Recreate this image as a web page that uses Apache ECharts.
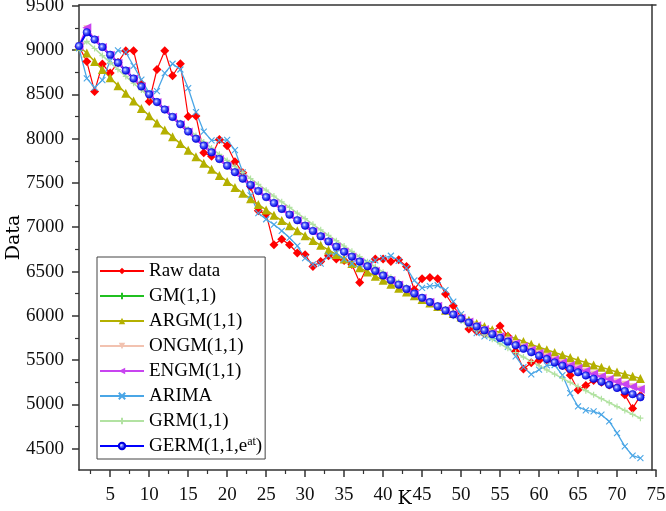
<!DOCTYPE html>
<html><head><meta charset="utf-8">
<script src="https://cdn.jsdelivr.net/npm/echarts@6.0.0/dist/echarts.min.js"></script>
<style>html,body{margin:0;padding:0;background:#fff}#c{width:666px;height:511px}</style>
</head><body><div id="c"></div>
<script>
const kValues = [1,2,3,4,5,6,7,8,9,10,11,12,13,14,15,16,17,18,19,20,21,22,23,24,25,26,27,28,29,30,31,32,33,34,35,36,37,38,39,40,41,42,43,44,45,46,47,48,49,50,51,52,53,54,55,56,57,58,59,60,61,62,63,64,65,66,67,68,69,70,71,72,73];
const xTickLabels = [5,10,15,20,25,30,35,40,45,50,55,60,65,70,75];
const xMinorTicks = [2.5,7.5,12.5,17.5,22.5,27.5,32.5,37.5,42.5,47.5,52.5,57.5,62.5,67.5,72.5];
const yTickLabels = [4500,5000,5500,6000,6500,7000,7500,8000,8500,9000,9500];
const yMinorTicks = [4750,5250,5750,6250,6750,7250,7750,8250,8750,9250];

const rawValues = [9040,8870,8533,8842,8740,8860,8992,8992,8620,8420,
 8780,8992,8710,8845,8250,8255,7840,7800,7990,7920,
 7740,7615,7460,7185,7150,6802,6865,6802,6709,6690,
 6557,6614,6678,6641,6625,6580,6375,6560,6640,6641,
 6614,6633,6557,6295,6419,6433,6419,6246,6114,5986,
 5851,5825,5800,5820,5885,5770,5600,5400,5470,5495,
 5505,5480,5440,5330,5162,5215,5270,5250,5220,5195,
 5110,4955,5100];
const gmValues = [9045,9200,9118,9033,8946,8857,8768,8678,8589,8500,
 8413,8328,8245,8162,8080,7999,7921,7845,7770,7695,
 7621,7548,7477,7408,7340,7273,7207,7142,7079,7018,
 6958,6898,6839,6781,6724,6668,6613,6559,6507,6455,
 6403,6352,6302,6252,6203,6155,6108,6061,6015,5969,
 5924,5880,5836,5793,5751,5709,5668,5628,5589,5550,
 5512,5474,5437,5400,5363,5327,5291,5256,5221,5186,
 5151,5116,5081];
const argmValues = [9040,8966,8871,8779,8688,8598,8511,8425,8341,8258,
 8177,8098,8020,7944,7869,7795,7723,7653,7584,7516,
 7449,7384,7320,7257,7195,7135,7075,7017,6960,6905,
 6850,6796,6743,6692,6641,6591,6542,6495,6448,6402,
 6357,6312,6269,6226,6185,6144,6104,6064,6026,5988,
 5951,5914,5879,5844,5809,5776,5743,5710,5678,5647,
 5617,5587,5558,5529,5500,5473,5446,5419,5393,5367,
 5342,5317,5293];
const ongmValues = [9045,9240,9113,9028,8941,8852,8763,8673,8584,8495,
 8408,8323,8240,8157,8075,7994,7916,7840,7765,7690,
 7616,7543,7472,7403,7335,7268,7202,7137,7074,7013,
 6953,6893,6834,6776,6719,6663,6608,6554,6502,6450,
 6398,6347,6297,6247,6198,6152,6107,6062,6018,5974,
 5931,5889,5847,5806,5766,5727,5688,5651,5615,5578,
 5543,5508,5474,5440,5407,5376,5344,5314,5285,5256,
 5227,5199,5171];
const engmValues = [9045,9250,9113,9028,8941,8852,8763,8673,8584,8495,
 8408,8323,8240,8157,8075,7994,7916,7840,7765,7690,
 7616,7543,7472,7403,7335,7268,7202,7137,7074,7013,
 6953,6893,6834,6776,6719,6663,6608,6554,6502,6450,
 6398,6347,6297,6247,6198,6152,6107,6062,6018,5974,
 5931,5889,5847,5806,5766,5727,5688,5651,5615,5578,
 5543,5508,5474,5440,5407,5376,5344,5314,5285,5256,
 5227,5199,5171];
const arimaValues = [9020,8680,8575,8660,8880,8995,8975,8820,8665,8515,
 8535,8740,8845,8780,8571,8300,8080,7980,7980,7985,
 7870,7620,7360,7160,7090,7030,6960,6880,6790,6650,
 6580,6590,6680,6710,6640,6590,6580,6600,6625,6652,
 6678,6620,6540,6400,6315,6335,6345,6290,6160,6020,
 5900,5806,5767,5750,5730,5650,5542,5420,5340,5392,
 5440,5445,5330,5128,4977,4932,4921,4884,4808,4677,
 4526,4421,4395];
const grmValues = [9020,9097,9017,8937,8858,8780,8702,8625,8549,8474,
 8399,8325,8251,8178,8106,8034,7963,7893,7823,7754,
 7686,7618,7550,7484,7418,7352,7287,7223,7159,7096,
 7033,6971,6909,6848,6788,6728,6668,6610,6551,6493,
 6436,6379,6323,6267,6211,6157,6102,6048,5995,5942,
 5889,5837,5786,5735,5684,5634,5584,5535,5486,5437,
 5389,5342,5294,5248,5201,5155,5110,5065,5020,4976,
 4932,4888,4845];
const germValues = [9045,9200,9118,9033,8946,8857,8768,8678,8589,8500,
 8413,8328,8245,8162,8080,7999,7921,7845,7770,7695,
 7621,7548,7477,7408,7340,7273,7207,7142,7079,7018,
 6958,6898,6839,6781,6724,6668,6613,6559,6507,6455,
 6403,6352,6302,6252,6203,6155,6108,6061,6015,5969,
 5924,5880,5836,5793,5751,5709,5668,5628,5589,5550,
 5512,5474,5437,5400,5363,5327,5291,5256,5221,5186,
 5151,5116,5081];

const seriesNames = ['Raw data','GM(1,1)','ARGM(1,1)','ONGM(1,1)','ENGM(1,1)','ARIMA','GRM(1,1)','GERM(1,1,e^at)'];

const pts = arr => kValues.map((k, i) => [k, arr[i]]);
const SERIF = 'Liberation Serif';
const axisCol = '#333';
const xPath = 'path://M0,0L10,10M10,0L0,10';
const plusPath = 'path://M5,0L5,10M0,5L10,5';

function lineSeries(name, values, color, symbol, size, lw, opts) {
  return Object.assign({
    type: 'line', name: name, data: pts(values),
    symbol: symbol, symbolSize: size,
    lineStyle: { color: color, width: lw },
    itemStyle: { color: color },
    emphasis: { disabled: true }
  }, opts || {});
}

const germGrad = new echarts.graphic.RadialGradient(0.4, 0.4, 0.6, [
  { offset: 0, color: '#e6ebff' },
  { offset: 0.4, color: '#5060ff' },
  { offset: 1, color: '#0000d8' }
]);

const series = [
  lineSeries(seriesNames[0], rawValues, '#ff0000', 'diamond', 9, 1.2),
  lineSeries(seriesNames[1], gmValues, '#20c020', plusPath, 6, 1.5,
    { itemStyle: { color: 'rgba(0,0,0,0)', borderColor: '#20c020', borderWidth: 1.2 } }),
  lineSeries(seriesNames[2], argmValues, '#b4b000', 'triangle', 9, 1.5),
  lineSeries(seriesNames[3], ongmValues, '#f2c2b0', 'triangle', 7, 1.5, { symbolRotate: 180 }),
  lineSeries(seriesNames[4], engmValues, '#c844f0', 'triangle', 9, 2, { symbolRotate: 90 }),
  lineSeries(seriesNames[5], arimaValues, '#4aa6e6', xPath, 6, 1.3,
    { itemStyle: { color: 'rgba(0,0,0,0)', borderColor: '#4aa6e6', borderWidth: 1.1 } }),
  lineSeries(seriesNames[6], grmValues, '#b2e2a2', plusPath, 6, 1.6,
    { itemStyle: { color: 'rgba(0,0,0,0)', borderColor: '#b2e2a2', borderWidth: 1.2 } }),
  lineSeries(seriesNames[7], germValues, '#0000ff', 'circle', 7.5, 2,
    { itemStyle: { color: germGrad, borderColor: '#0000e0', borderWidth: 0.6 } })
];

const plain = v => String(v);

const chart = echarts.init(document.getElementById('c'), null, { renderer: 'canvas' });
chart.setOption({
  animation: false,
  backgroundColor: '#fff',
  grid: { left: 79, right: 10, top: 5, bottom: 41, containLabel: false, outerBoundsMode: 'none' },
  xAxis: [
    {
      type: 'value', min: 1, max: 75, position: 'bottom',
      name: 'K', nameLocation: 'middle', nameGap: 20, nameMoveOverlap: false,
      nameTextStyle: { fontFamily: 'DejaVu Serif', fontSize: 19, color: '#000', padding: [0, 0, 0, 74] },
      axisLine: { show: true, onZero: false, lineStyle: { color: axisCol, width: 1.5 } },
      axisTick: { show: true, inside: false, length: 7, customValues: xTickLabels, lineStyle: { color: axisCol, width: 1.5 } },
      axisLabel: { show: true, customValues: xTickLabels, formatter: plain, margin: 16, fontFamily: SERIF, fontSize: 19, color: '#111' },
      splitLine: { show: false }
    },
    {
      type: 'value', min: 1, max: 75, position: 'bottom',
      axisLine: { show: false },
      axisTick: { show: true, inside: false, length: 4, customValues: xMinorTicks, lineStyle: { color: axisCol, width: 1.2 } },
      axisLabel: { show: false }, splitLine: { show: false }
    },
    {
      type: 'value', min: 1, max: 75, position: 'top',
      axisLine: { show: true, onZero: false, lineStyle: { color: axisCol, width: 1.5 } },
      axisTick: { show: false }, axisLabel: { show: false }, splitLine: { show: false }
    }
  ],
  yAxis: [
    {
      type: 'value', min: 4260, max: 9508, position: 'left',
      name: 'Data', nameLocation: 'middle', nameGap: 55, nameRotate: 90, nameMoveOverlap: false,
      nameTextStyle: { fontFamily: 'DejaVu Serif', fontSize: 19, color: '#000' },
      axisLine: { show: true, onZero: false, lineStyle: { color: axisCol, width: 1.5 } },
      axisTick: { show: true, inside: false, length: 7, customValues: yTickLabels, lineStyle: { color: axisCol, width: 1.5 } },
      axisLabel: { show: true, customValues: yTickLabels, formatter: plain, margin: 15, fontFamily: SERIF, fontSize: 19, color: '#111' },
      splitLine: { show: false }
    },
    {
      type: 'value', min: 4260, max: 9508, position: 'left',
      axisLine: { show: false },
      axisTick: { show: true, inside: false, length: 4, customValues: yMinorTicks, lineStyle: { color: axisCol, width: 1.2 } },
      axisLabel: { show: false }, splitLine: { show: false }
    },
    {
      type: 'value', min: 4260, max: 9508, position: 'right', offset: -4,
      axisLine: { show: true, onZero: false, lineStyle: { color: axisCol, width: 1.5 } },
      axisTick: { show: false }, axisLabel: { show: false }, splitLine: { show: false }
    }
  ],
  legend: {
    data: seriesNames,
    orient: 'vertical', left: 97, top: 257,
    backgroundColor: '#fff', borderColor: '#444', borderWidth: 1,
    padding: [4, 3, 3, 2], itemWidth: 44, itemHeight: 8, itemGap: 5,
    selectedMode: false,
    textStyle: {
      fontFamily: SERIF, fontSize: 19, color: '#000', lineHeight: 20,
      rich: {
        n: { fontFamily: SERIF, fontSize: 19, color: '#000', lineHeight: 20 },
        s: { fontFamily: SERIF, fontSize: 12, color: '#000', lineHeight: 20, verticalAlign: 'top', padding: [0, 0, 8, 0] }
      }
    },
    formatter: name => name === 'GERM(1,1,e^at)' ? '{n|GERM(1,1,e}{s|at}{n|)}' : name
  },
  series: series
});
</script></body></html>
